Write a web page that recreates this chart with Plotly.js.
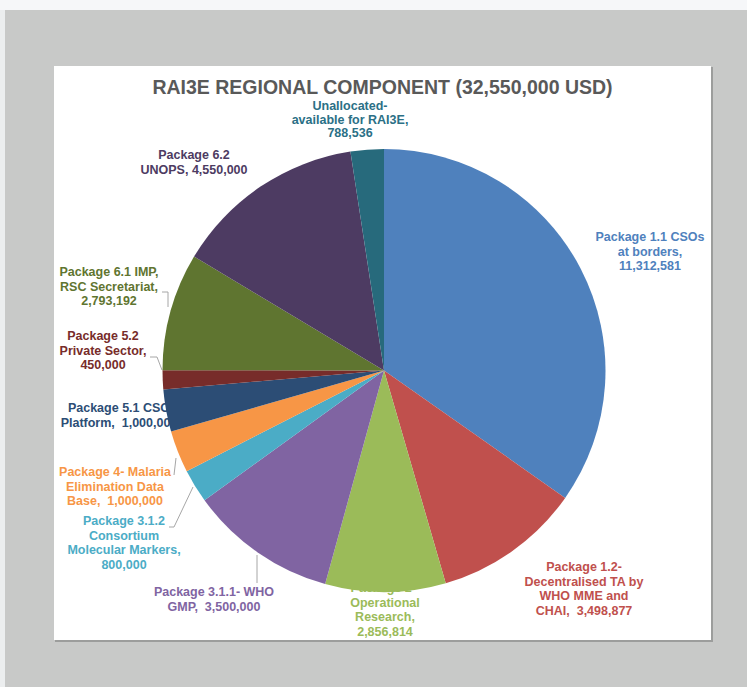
<!DOCTYPE html>
<html>
<head>
<meta charset="utf-8">
<script src="https://cdn.plot.ly/plotly-3.0.1.min.js"></script>
<style>html,body{margin:0;padding:0;background:#c8c9c8;}#chart{width:747px;height:687px;}</style>
</head>
<body>
<div id="chart"></div>
<script>
// ---- data ----
const categories = [
  "Package 1.1 CSOs at borders",
  "Package 1.2- Decentralised TA by WHO MME and CHAI",
  "Package 2 - Operational Research",
  "Package 3.1.1- WHO GMP",
  "Package 3.1.2 Consortium Molecular Markers",
  "Package 4- Malaria Elimination Data Base",
  "Package 5.1 CSO Platform",
  "Package 5.2 Private Sector",
  "Package 6.1 IMP, RSC Secretariat",
  "Package 6.2 UNOPS",
  "Unallocated- available for RAI3E"
];
const values = [11312581, 3498877, 2856814, 3500000, 800000, 1000000, 1000000, 450000, 2793192, 4550000, 788536];
const labelText = [
  "Package 1.1 CSOs<br>at borders,<br>11,312,581",
  "Package 1.2-<br>Decentralised TA by<br>WHO MME and<br>CHAI,  3,498,877",
  "Package 2 -<br>Operational<br>Research,<br>2,856,814",
  "Package 3.1.1- WHO<br>GMP,  3,500,000",
  "Package 3.1.2<br>Consortium<br>Molecular Markers,<br>800,000",
  "Package 4- Malaria<br>Elimination Data<br>Base,  1,000,000",
  "Package 5.1 CSO<br>Platform,  1,000,000",
  "Package 5.2<br>Private Sector,<br>450,000",
  "Package 6.1 IMP,<br>RSC Secretariat,<br>2,793,192",
  "Package 6.2<br>UNOPS, 4,550,000",
  "Unallocated-<br>available for RAI3E,<br>788,536"
];
const titleText = "RAI3E REGIONAL COMPONENT (32,550,000 USD)";

// ---- styles / layout positions ----
const sliceColors = ["#4f81bd","#c0504d","#9bbb59","#8064a2","#4bacc6","#f79646","#2c4d75","#772c2a","#5f7530","#4d3b62","#276a7c"];
const labelColors = ["#4f81bd","#c0504d","#9bbb59","#8064a2","#4bacc6","#f79646","#2c4d75","#772c2a","#5f7530","#4d3b62","#2b7086"];
// label anchor (center x, first-line center y, line gap) in page pixels
const labelPos = [[650,238,14.5],[584,568,14.5],[385,589,14.5],[214,593,14.5],[124,522,14.5],[115,473,14.5],[119,409,14.5],[103,337,14.5],[109,273,14.5],[194,156,14.5],[350,107,13.5]];
const W = 747, H = 687;
const pieCx = 384, pieCy = 370.5, pieR = 221.5;

// build per-line text points
const tx = [], ty = [], tt = [], tc = [];
labelText.forEach((s, i) => {
  s.split("<br>").forEach((line, k) => {
    tx.push(labelPos[i][0]);
    ty.push(labelPos[i][1] + k * labelPos[i][2]);
    tt.push(line);
    tc.push(labelColors[i]);
  });
});

const labelTrace = {
  type: "scatter", mode: "text", x: tx, y: ty, text: tt,
  textposition: "middle center",
  textfont: {family: "Liberation Sans, Arial, sans-serif", size: 12.5, color: tc, weight: "bold"},
  hoverinfo: "skip", showlegend: false, cliponaxis: false
};

const pieTrace = {
  type: "pie", labels: categories, values: values,
  sort: false, direction: "clockwise", rotation: 0,
  marker: {colors: sliceColors, line: {width: 0}},
  textinfo: "none", hoverinfo: "label+value", showlegend: false,
  domain: {x: [(pieCx - pieR) / W, (pieCx + pieR) / W], y: [1 - (pieCy + pieR) / H, 1 - (pieCy - pieR) / H]}
};

const leaderLines = [
  [[162,292],[168,292],[168,307]],
  [[150,357],[157,357],[162,370]],
  [[174,475],[176,458]],
  [[169,527],[174,527],[193,487]],
  [[257,583],[257,555]]
];
const shapes = [
  {type:"rect", xref:"paper", yref:"paper", x0:0, x1:1, y0:1-10/H, y1:1, fillcolor:"#f6f7f9", line:{width:0}, layer:"below"},
  {type:"rect", xref:"paper", yref:"paper", x0:0, x1:5/W, y0:0, y1:1-10/H, fillcolor:"#eceeef", line:{width:0}, layer:"below"},
  {type:"rect", xref:"x", yref:"y", x0:55, x1:713, y0:67, y1:642, fillcolor:"#9c9d9c", line:{width:0}, layer:"below"},
  {type:"rect", xref:"x", yref:"y", x0:54, x1:711, y0:66, y1:640, fillcolor:"#ffffff", line:{width:0}, layer:"below"}
];
leaderLines.forEach(pts => {
  for (let i = 0; i < pts.length - 1; i++) {
    shapes.push({type:"line", xref:"x", yref:"y", x0:pts[i][0], y0:pts[i][1], x1:pts[i+1][0], y1:pts[i+1][1],
      line:{color:"#a6a6a6", width:1}, layer:"below"});
  }
});

const layout = {
  width: W, height: H,
  margin: {l:0, r:0, t:0, b:0, pad:0},
  paper_bgcolor: "#c8c9c8", plot_bgcolor: "rgba(0,0,0,0)",
  showlegend: false,
  xaxis: {range: [0, W], visible: false, fixedrange: true, domain: [0,1]},
  yaxis: {range: [H, 0], visible: false, fixedrange: true, domain: [0,1]},
  title: {text: titleText, x: 382.5 / W, xref: "paper", xanchor: "center",
          y: 1 - 87 / H, yref: "container", yanchor: "middle",
          font: {family: "Liberation Sans, Arial, sans-serif", size: 19.5, color: "#595959", weight: "bold"}},
  shapes: shapes
};

Plotly.newPlot("chart", [labelTrace, pieTrace], layout, {displayModeBar: false, staticPlot: true});
</script>
</body>
</html>
